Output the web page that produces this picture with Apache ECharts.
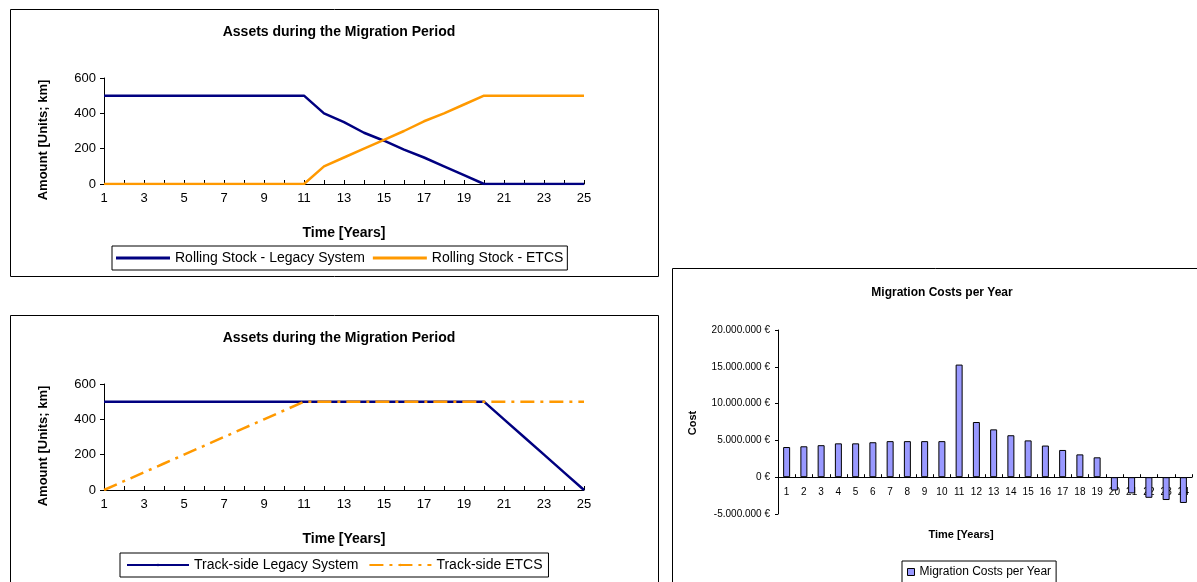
<!DOCTYPE html>
<html>
<head>
<meta charset="UTF-8">
<title>Migration</title>
<script src="https://cdn.jsdelivr.net/npm/echarts@6/dist/echarts.min.js"></script>
<style>html,body{margin:0;padding:0;background:#fff;}#main{width:1197px;height:582px;}</style>
</head>
<body>
<div id="main"></div>
<script>
var years25 = [];
for (var i = 1; i <= 25; i++) years25.push(String(i));
var years24 = years25.slice(0, 24);

var rsLegacy = [500,500,500,500,500,500,500,500,500,500,500,400,350,290,245,195,150,100,50,0,0,0,0,0,0];
var rsEtcs   = [0,0,0,0,0,0,0,0,0,0,0,100,150,200,250,300,355,400,450,500,500,500,500,500,500];
var tsLegacy = [500,500,500,500,500,500,500,500,500,500,500,500,500,500,500,500,500,500,500,500,400,300,200,100,0];
var tsEtcs   = [0,50,100,150,200,250,300,350,400,450,500,500,500,500,500,500,500,500,500,500,500,500,500,500,500];
var costs = [4100000,4200000,4350000,4600000,4600000,4750000,4900000,4900000,4900000,4900000,
             15300000,7500000,6500000,5700000,5000000,4300000,3700000,3100000,2700000,
             -1800000,-2200000,-2800000,-3100000,-3500000];

var FONT = 'Arial, "Liberation Sans", sans-serif';
var myChart = echarts.init(document.getElementById('main'));

function lineX(idx) {
    return {
        type: 'category', gridIndex: idx, data: years25, boundaryGap: false,
        axisLine: {lineStyle: {color: '#000'}},
        axisTick: {show: true, interval: 0, inside: true, length: 4, lineStyle: {color: '#000'}},
        axisLabel: {interval: 1, color: '#000', fontSize: 13, fontFamily: FONT, margin: 8}
    };
}
function lineY(idx) {
    return {
        type: 'value', gridIndex: idx, min: 0, max: 600, interval: 200,
        axisLine: {show: true, lineStyle: {color: '#000'}},
        axisTick: {show: true, length: 4, lineStyle: {color: '#000'}},
        splitLine: {show: false},
        axisLabel: {color: '#000', fontSize: 13, fontFamily: FONT}
    };
}
function money(v) {
    var s = String(Math.abs(v)).replace(/\B(?=(\d{3})+(?!\d))/g, '.');
    return (v < 0 ? '-' : '') + s + ' €';
}
function txt(t, x, y, size, rot) {
    return {type: 'text', x: x, y: y, rotation: rot || 0,
        style: {text: t, fontSize: size, fontWeight: 'bold', fill: '#000', fontFamily: FONT, align: 'center', verticalAlign: 'middle'}};
}

var option = {
    animation: false,
    textStyle: {fontFamily: FONT},
    graphic: [
        {type: 'rect', shape: {x: 10.5, y: 9.5, width: 648, height: 267}, style: {fill: 'none', stroke: '#000', lineWidth: 1}},
        {type: 'rect', shape: {x: 10.5, y: 315.5, width: 648, height: 280}, style: {fill: 'none', stroke: '#000', lineWidth: 1}},
        {type: 'rect', shape: {x: 672.5, y: 268.5, width: 540, height: 330}, style: {fill: 'none', stroke: '#000', lineWidth: 1}},
        txt('Amount [Units; km]', 43, 140, 13, Math.PI / 2),
        txt('Amount [Units; km]', 43, 446, 13, Math.PI / 2),
        txt('Cost', 693, 423, 11, Math.PI / 2),
        txt('Time [Years]', 344, 233, 14),
        txt('Time [Years]', 344, 539, 14),
        txt('Time [Years]', 961, 535, 11)
    ],
    title: [
        {text: 'Assets during the Migration Period', left: 334, top: 20, textAlign: 'center', textStyle: {fontSize: 14, fontWeight: 'bold', color: '#000'}},
        {text: 'Assets during the Migration Period', left: 334, top: 326, textAlign: 'center', textStyle: {fontSize: 14, fontWeight: 'bold', color: '#000'}},
        {text: 'Migration Costs per Year', left: 937, top: 282, textAlign: 'center', textStyle: {fontSize: 12, fontWeight: 'bold', color: '#000'}}
    ],
    legend: [
        {data: ['Rolling Stock - Legacy System', 'Rolling Stock - ETCS'], left: 112, top: 246, itemGap: 8, itemWidth: 54, itemHeight: 3,
         padding: [5, 4], borderColor: '#000', borderWidth: 1, borderRadius: 0, icon: 'rect',
         textStyle: {fontSize: 14, color: '#000'}},
        {data: ['Track-side Legacy System', 'Track-side ETCS'], left: 120, top: 553, itemGap: 10, itemWidth: 62, itemHeight: 3,
         padding: [5, 6], borderColor: '#000', borderWidth: 1, borderRadius: 0,
         textStyle: {fontSize: 14, color: '#000'}},
        {data: ['Migration Costs per Year'], left: 902, top: 561, itemWidth: 7, itemHeight: 7, itemGap: 4,
         padding: [5, 5, 8, 5], borderColor: '#000', borderWidth: 1, borderRadius: 0, icon: 'rect',
         itemStyle: {borderColor: '#000', borderWidth: 1},
         textStyle: {fontSize: 12, color: '#000'}}
    ],
    grid: [
        {left: 104, width: 480, top: 78, height: 106},
        {left: 104, width: 480, top: 384, height: 106},
        {left: 778, width: 414, top: 330, height: 184}
    ],
    xAxis: [
        lineX(0), lineX(1),
        {type: 'category', gridIndex: 2, data: years24, boundaryGap: true,
         axisLine: {onZero: true, lineStyle: {color: '#000'}},
         axisTick: {show: true, inside: true, length: 3, lineStyle: {color: '#000'}},
         axisLabel: {interval: 0, color: '#000', fontSize: 10, margin: -27}}
    ],
    yAxis: [
        lineY(0), lineY(1),
        {type: 'value', gridIndex: 2, min: -5000000, max: 20000000, interval: 5000000,
         axisLine: {show: true, lineStyle: {color: '#000'}},
         axisTick: {show: true, length: 3, lineStyle: {color: '#000'}},
         splitLine: {show: false},
         axisLabel: {color: '#000', fontSize: 10, formatter: money}}
    ],
    series: [
        {name: 'Rolling Stock - Legacy System', type: 'line', xAxisIndex: 0, yAxisIndex: 0, data: rsLegacy, showSymbol: false, symbol: 'none',
         lineStyle: {color: '#000080', width: 2.5}, itemStyle: {color: '#000080'}},
        {name: 'Rolling Stock - ETCS', type: 'line', xAxisIndex: 0, yAxisIndex: 0, data: rsEtcs, showSymbol: false, symbol: 'none',
         lineStyle: {color: '#FF9900', width: 2.5}, itemStyle: {color: '#FF9900'}},
        {name: 'Track-side Legacy System', type: 'line', xAxisIndex: 1, yAxisIndex: 1, data: tsLegacy, showSymbol: false, symbol: 'none',
         lineStyle: {color: '#000080', width: 2.5}, itemStyle: {color: '#000080'}},
        {name: 'Track-side ETCS', type: 'line', xAxisIndex: 1, yAxisIndex: 1, data: tsEtcs, showSymbol: false, symbol: 'none', z: 3,
         lineStyle: {color: '#FF9900', width: 2.5, type: [14, 6, 3, 6]}, itemStyle: {color: '#FF9900'}},
        {name: 'Migration Costs per Year', type: 'bar', xAxisIndex: 2, yAxisIndex: 2, data: costs, barWidth: 7,
         itemStyle: {color: '#9999FF', borderColor: '#000', borderWidth: 1}}
    ]
};
myChart.setOption(option);
</script>
</body>
</html>
